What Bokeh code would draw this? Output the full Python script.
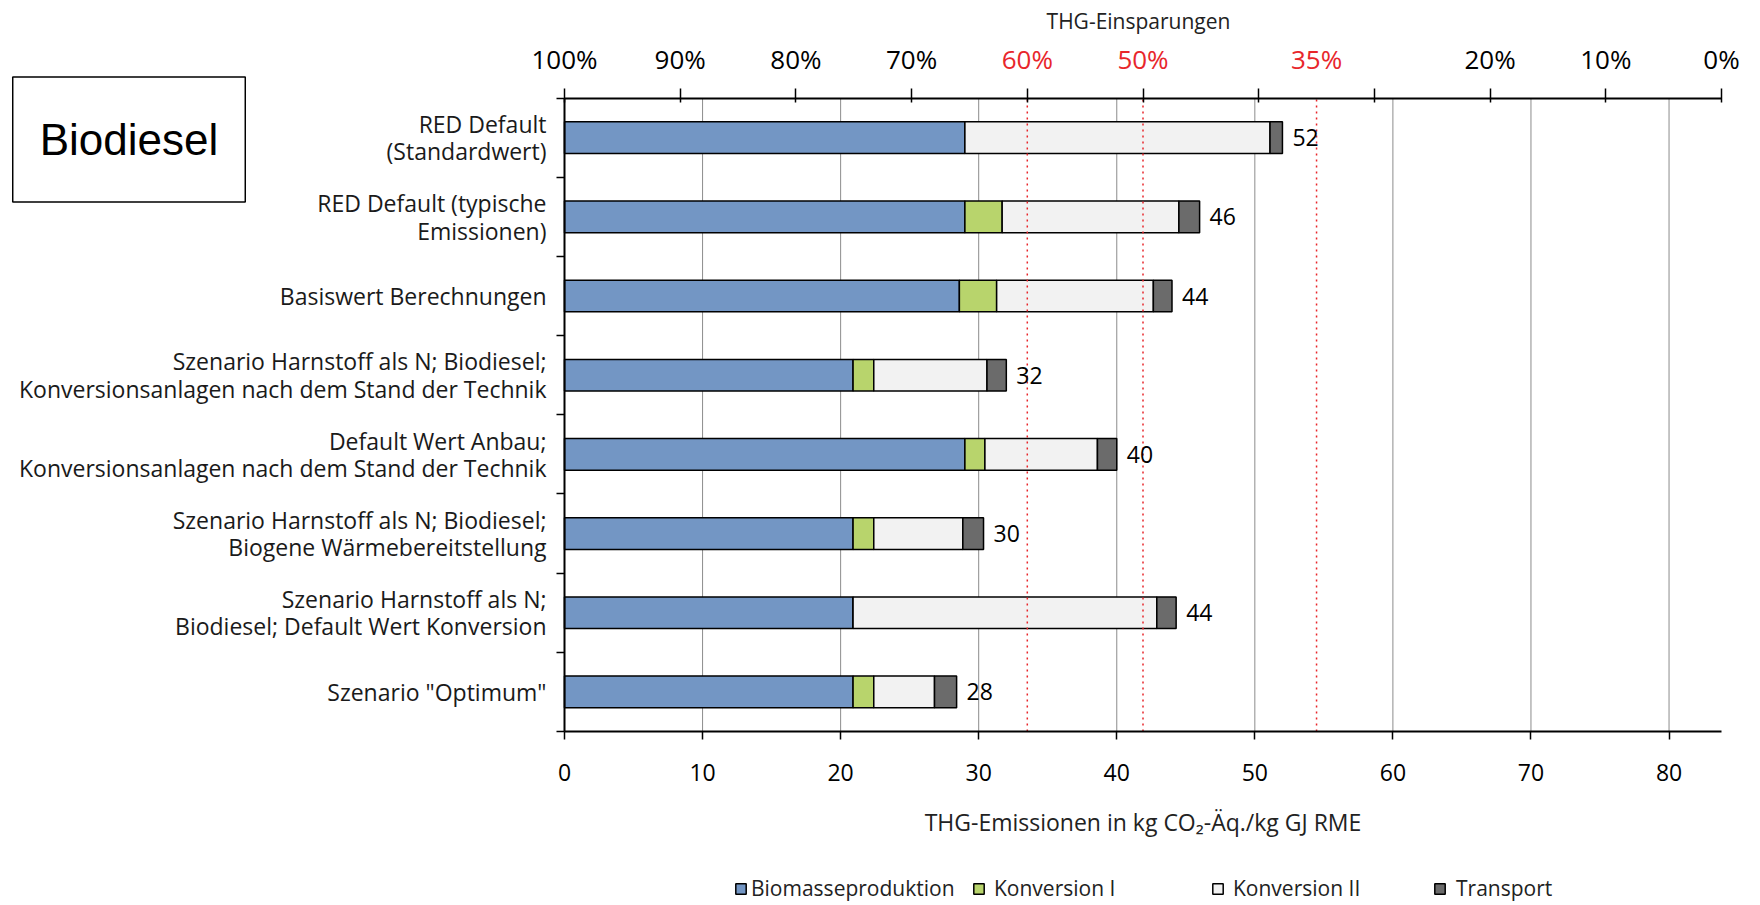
from bokeh.plotting import figure
from bokeh.models import (Range1d, LinearAxis, FixedTicker, Label, Legend,
                          LegendItem, ColumnDataSource)
from bokeh.embed import file_html
from bokeh.resources import INLINE
from bokeh.core.properties import value

# ---------------- data ----------------
categories = [
    "RED Default\n(Standardwert)",
    "RED Default (typische\nEmissionen)",
    "Basiswert Berechnungen",
    "Szenario Harnstoff als N; Biodiesel;\nKonversionsanlagen nach dem Stand der Technik",
    "Default Wert Anbau;\nKonversionsanlagen nach dem Stand der Technik",
    "Szenario Harnstoff als N; Biodiesel;\nBiogene Wärmebereitstellung",
    "Szenario Harnstoff als N;\nBiodiesel; Default Wert Konversion",
    'Szenario "Optimum"',
]
biomasseproduktion = [29.0, 29.0, 28.6, 20.9, 29.0, 20.9, 20.9, 20.9]
konversion_1 = [0.0, 2.7, 2.7, 1.5, 1.45, 1.5, 0.0, 1.5]
konversion_2 = [22.1, 12.8, 11.35, 8.2, 8.15, 6.45, 22.0, 4.4]
transport = [0.9, 1.5, 1.35, 1.4, 1.4, 1.5, 1.4, 1.6]
total_labels = ["52", "46", "44", "32", "40", "30", "44", "28"]

series_names = ["Biomasseproduktion", "Konversion I", "Konversion II", "Transport"]
series_colors = ["#7396c4", "#b8d46c", "#f2f2f2", "#6b6b6b"]

x_ticks = [0, 10, 20, 30, 40, 50, 60, 70, 80]
fossil_comparator = 83.8
savings_ticks = [100, 90, 80, 70, 60, 50, 40, 30, 20, 10, 0]
savings_labels_black = [100, 90, 80, 70, 20, 10, 0]
savings_labels_red = [60, 50, 35]
threshold_lines = [60, 50, 35]

x_title = "THG-Emissionen in kg CO\u2082-\u00c4q./kg GJ RME"
top_title = "THG-Einsparungen"
box_title = "Biodiesel"

# ---------------- layout constants ----------------
W, H = 1760, 905
BL, BR, BT, BB = 564, 39, 97.6, 174
FONT = "Open Sans"
RED = "#e8262b"

n = len(categories)
ypos = [n - 1 - i for i in range(n)]
boundaries = [k - 0.5 for k in range(n + 1)]
totals = [a + b + c + d for a, b, c, d in zip(biomasseproduktion, konversion_1, konversion_2, transport)]

PX = (W - BL - BR) / fossil_comparator
PY = (H - BT - BB) / n
x_range = Range1d(-BL / PX, fossil_comparator + BR / PX)
y_range = Range1d(-0.5 - BB / PY, n - 0.5 + BT / PY)


def sav_to_x(s):
    return fossil_comparator * (1 - s / 100.0)


p = figure(width=W, height=H, x_range=x_range, y_range=y_range, output_backend="svg",
           toolbar_location=None, min_border=0)
p.outline_line_color = None
p.background_fill_color = "white"
p.border_fill_color = "white"
for ax in p.axis:
    ax.visible = False
for g in p.grid:
    g.visible = False

# gridlines (behind bars)
p.segment(x0=x_ticks, y0=[-0.5] * len(x_ticks), x1=x_ticks, y1=[n - 0.5] * len(x_ticks),
          line_color="#8c8c8c", line_width=1, level="underlay")

# bottom axis
xa = LinearAxis(ticker=FixedTicker(ticks=x_ticks), fixed_location=-0.5,
                bounds=(0, fossil_comparator))
xa.axis_line_color = "black"
xa.axis_line_width = 2
xa.major_tick_out = 8
xa.major_tick_in = 0
xa.minor_tick_out = 0
xa.major_tick_line_color = "black"
xa.major_tick_line_width = 1.5
xa.major_label_text_font = FONT
xa.major_label_text_font_size = "23px"
xa.major_label_text_color = "black"
xa.major_label_standoff = 24
xa.axis_label = x_title
xa.axis_label_text_font = FONT
xa.axis_label_text_font_style = "normal"
xa.axis_label_text_font_size = "23px"
xa.axis_label_text_color = "#222222"
xa.axis_label_standoff = 22
p.add_layout(xa, "below")

# left axis
ya = LinearAxis(ticker=FixedTicker(ticks=ypos, minor_ticks=boundaries), fixed_location=0,
                bounds=(-0.5, n - 0.5))
ya.major_label_overrides = {y: c for y, c in zip(ypos, categories)}
ya.major_tick_out = 0
ya.major_tick_in = 0
ya.minor_tick_out = 8
ya.minor_tick_in = 0
ya.minor_tick_line_color = "black"
ya.minor_tick_line_width = 1.5
ya.axis_line_color = "black"
ya.axis_line_width = 2
ya.major_label_standoff = 10
ya.major_label_text_font = FONT
ya.major_label_text_font_size = "23px"
ya.major_label_text_line_height = 0.86
ya.major_label_text_color = "#1a1a1a"
p.add_layout(ya, "left")

# top axis (savings)
top_ticks = [sav_to_x(s) for s in savings_ticks]
ta = LinearAxis(ticker=FixedTicker(ticks=top_ticks), fixed_location=n - 0.5,
                bounds=(0, fossil_comparator))
ta.major_label_overrides = {t: "" for t in top_ticks}
ta.major_tick_out = 10
ta.major_tick_in = 4
ta.minor_tick_out = 0
ta.major_tick_line_color = "black"
ta.major_tick_line_width = 1.5
ta.axis_line_color = "black"
ta.axis_line_width = 2
p.add_layout(ta, "above")

# bars
src = ColumnDataSource(dict(y=ypos, **{
    series_names[0]: biomasseproduktion,
    series_names[1]: konversion_1,
    series_names[2]: konversion_2,
    series_names[3]: transport,
}))
rends = p.hbar_stack(series_names, y="y", height=0.4, color=series_colors,
                     line_color="black", line_width=1.5, source=src)

# threshold lines (on top of bars)
thr_x = [sav_to_x(s) for s in threshold_lines]
p.segment(x0=thr_x, y0=[-0.5] * len(thr_x), x1=thr_x, y1=[n - 0.5] * len(thr_x),
          line_color=RED, line_width=1.5, line_dash="2 4")

# value labels
p.text(x=totals, y=ypos, text=total_labels, x_offset=10, text_baseline="middle",
       text_align="left", text_font=value(FONT), text_font_size="23px", text_color="black")

# top labels
TOP_LABEL_Y = H - 58
for s in savings_labels_black:
    p.add_layout(Label(x=sav_to_x(s), y=TOP_LABEL_Y, x_units="data", y_units="screen",
                       text=f"{s}%", text_align="center", text_baseline="middle",
                       text_font=FONT, text_font_size="26px", text_color="black"))
for s in savings_labels_red:
    p.add_layout(Label(x=sav_to_x(s), y=TOP_LABEL_Y, x_units="data", y_units="screen",
                       text=f"{s}%", text_align="center", text_baseline="middle",
                       text_font=FONT, text_font_size="26px", text_color=RED))
p.add_layout(Label(x=1138, y=H - 20, x_units="screen", y_units="screen",
                   text=top_title, text_align="center", text_baseline="middle",
                   text_font=FONT, text_font_size="21px", text_color="#222222"))

# Biodiesel box  (padding order: left, right, top, bottom)
p.add_layout(Label(x=128.5, y=H - 139, x_units="screen", y_units="screen",
                   text=box_title, text_align="center", text_baseline="middle",
                   text_font="Liberation Sans", text_font_size="44px", text_color="black",
                   border_line_color="black", border_line_width=1.5,
                   background_fill_color="white", padding=(27, 27, 38, 38)))

# legends
legend_x = [734, 972, 1211, 1433]
legend_standoff = [4, 9, 9, 10]
for r, name, lx, so in zip(rends, series_names, legend_x, legend_standoff):
    lg = Legend(items=[LegendItem(label=name, renderers=[r])], location=(lx, 3),
                orientation="horizontal", border_line_color=None, background_fill_alpha=0,
                padding=0, margin=0, glyph_width=13, glyph_height=13, label_standoff=so,
                label_text_font=FONT, label_text_font_size="21px", label_text_color="#222222",
                label_height=24)
    p.add_layout(lg)

open("out.html", "w").write(file_html(p, INLINE))
